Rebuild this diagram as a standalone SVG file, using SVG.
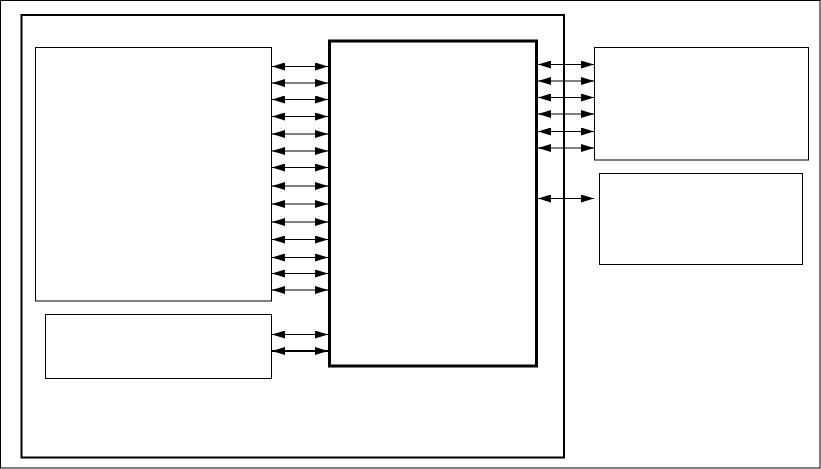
<svg xmlns="http://www.w3.org/2000/svg" width="821" height="469" viewBox="0 0 821 469">
<style>
.box{fill:#fff;stroke:#000;stroke-width:1}
.frame{fill:none;stroke:#000}
.c{stroke:#000;stroke-width:1;fill:none;marker-start:url(#ah);marker-end:url(#ah)}
.c2{stroke-width:2}
</style>
<defs>
<marker id="ah" markerUnits="userSpaceOnUse" markerWidth="13" markerHeight="8" refX="13" refY="4" orient="auto-start-reverse" viewBox="0 0 13 8">
<path d="M0,0 L13,4 L0,8 Z" fill="#000"/>
</marker>
</defs>
<rect id="outer" class="frame" x="0.5" y="0.5" width="819.5" height="467.5" stroke-width="1"/>
<rect id="inner" class="frame" x="21.5" y="15" width="542.5" height="442.5" stroke-width="2"/>
<g id="left-big"><rect class="box" x="35.5" y="47.5" width="236" height="253.5"/></g>
<g id="left-small"><rect class="box" x="45.5" y="314.5" width="226" height="64"/></g>
<g id="center"><rect x="329.5" y="41" width="207" height="325" fill="#fff" stroke="#000" stroke-width="3"/></g>
<g id="right-top"><rect class="box" x="594.5" y="47.5" width="214" height="112.5"/></g>
<g id="right-bottom"><rect class="box" x="599.5" y="173.5" width="203" height="91"/></g>
<g id="connectors">
<line class="c" x1="272" y1="66.5" x2="328" y2="66.5"/>
<line class="c" x1="272" y1="83" x2="328" y2="83"/>
<line class="c" x1="272" y1="99.5" x2="328" y2="99.5"/>
<line class="c" x1="272" y1="116.5" x2="328" y2="116.5"/>
<line class="c" x1="272" y1="134" x2="328" y2="134"/>
<line class="c" x1="272" y1="151" x2="328" y2="151"/>
<line class="c" x1="272" y1="167.5" x2="328" y2="167.5"/>
<line class="c" x1="272" y1="186" x2="328" y2="186"/>
<line class="c" x1="272" y1="204" x2="328" y2="204"/>
<line class="c" x1="272" y1="222" x2="328" y2="222"/>
<line class="c" x1="272" y1="239.5" x2="328" y2="239.5"/>
<line class="c" x1="272" y1="257.5" x2="328" y2="257.5"/>
<line class="c" x1="272" y1="273.5" x2="328" y2="273.5"/>
<line class="c" x1="272" y1="290" x2="328" y2="290"/>
<line class="c" x1="272" y1="334.5" x2="328" y2="334.5"/>
<line class="c c2" x1="272" y1="351" x2="328" y2="351"/>
<line class="c" x1="538" y1="64.5" x2="594" y2="64.5"/>
<line class="c" x1="538" y1="81" x2="594" y2="81"/>
<line class="c" x1="538" y1="97.5" x2="594" y2="97.5"/>
<line class="c" x1="538" y1="114" x2="594" y2="114"/>
<line class="c" x1="538" y1="131.5" x2="594" y2="131.5"/>
<line class="c" x1="538" y1="148" x2="594" y2="148"/>
<line class="c" x1="538" y1="198.5" x2="594" y2="198.5"/>
</g>
</svg>
